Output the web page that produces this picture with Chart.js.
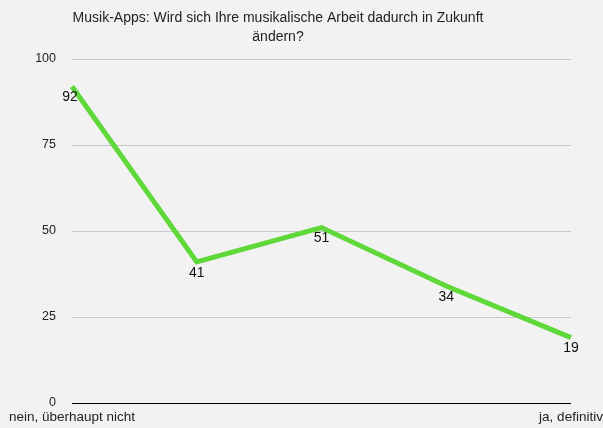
<!DOCTYPE html>
<html>
<head>
<meta charset="utf-8">
<script src="https://cdn.jsdelivr.net/npm/chart.js@4"></script>
<style>
  html, body { margin: 0; padding: 0; background: #f2f2f2; }
  #wrap { width: 603px; height: 428px; position: relative; }
</style>
</head>
<body>
<div id="wrap"><canvas id="chart"></canvas></div>
<script>
const titleLines = ["Musik-Apps: Wird sich Ihre musikalische Arbeit dadurch in Zukunft", "ändern?"];
const categories = ["nein, überhaupt nicht", "", "", "", "ja, definitiv"];
const values = [92, 41, 51, 34, 19];
const yTicks = [0, 25, 50, 75, 100];

const FONT = "'Liberation Sans', Arial, Helvetica, sans-serif";

// title drawn by hand so it sits where the original does
const titlePlugin = {
  id: "customTitle",
  afterDraw(chart) {
    const ctx = chart.ctx;
    ctx.save();
    ctx.font = "14px " + FONT;
    ctx.fillStyle = "#222";
    ctx.textAlign = "center";
    ctx.textBaseline = "middle";
    titleLines.forEach((t, i) => ctx.fillText(t, 278, 18 + i * 19));
    ctx.restore();
  }
};

// value labels under each point
const valueLabels = {
  id: "valueLabels",
  afterDatasetsDraw(chart) {
    const ctx = chart.ctx;
    const meta = chart.getDatasetMeta(0);
    ctx.save();
    ctx.font = "14px " + FONT;
    ctx.fillStyle = "#111";
    ctx.textAlign = "center";
    ctx.textBaseline = "top";
    meta.data.forEach((pt, i) => {
      ctx.fillText(String(values[i]), pt.x - (i === 0 ? 2 : 0), pt.y + 4);
    });
    ctx.restore();
  }
};

new Chart(document.getElementById("chart"), {
  type: "line",
  data: {
    labels: categories,
    datasets: [{
      data: values,
      borderColor: "#5fd83a",
      borderWidth: 5,
      pointRadius: 0,
      tension: 0,
      fill: false
    }]
  },
  options: {
    responsive: true,
    maintainAspectRatio: false,
    animation: false,
    layout: { padding: { top: 59, right: 32, bottom: 0, left: 0 } },
    plugins: {
      legend: { display: false },
      title: { display: false },
      tooltip: { enabled: false }
    },
    scales: {
      x: {
        grid: { display: false, drawTicks: false },
        border: { display: false },
        ticks: {
          autoSkip: false,
          maxRotation: 0,
          padding: 6,
          color: "#222",
          font: { family: FONT, size: 13.5 }
        },
        afterFit(scale) {
          scale.height = 25;
          // let the last label run to the edge like the original
          scale.paddingLeft = 0;
          scale.paddingRight = 0;
        }
      },
      y: {
        min: 0,
        max: 100,
        afterBuildTicks(scale) { scale.ticks = yTicks.map(v => ({ value: v })); },
        grid: {
          drawTicks: false,
          color: ctx => ctx.tick && ctx.tick.value === 0 ? "#000" : "#c8c8c8",
          lineWidth: 1
        },
        border: { display: false },
        ticks: {
          padding: 16,
          color: "#222",
          font: { family: FONT, size: 12.5 }
        },
        afterFit(scale) { scale.width = 72; }
      }
    }
  },
  plugins: [titlePlugin, valueLabels]
});
</script>
</body>
</html>
